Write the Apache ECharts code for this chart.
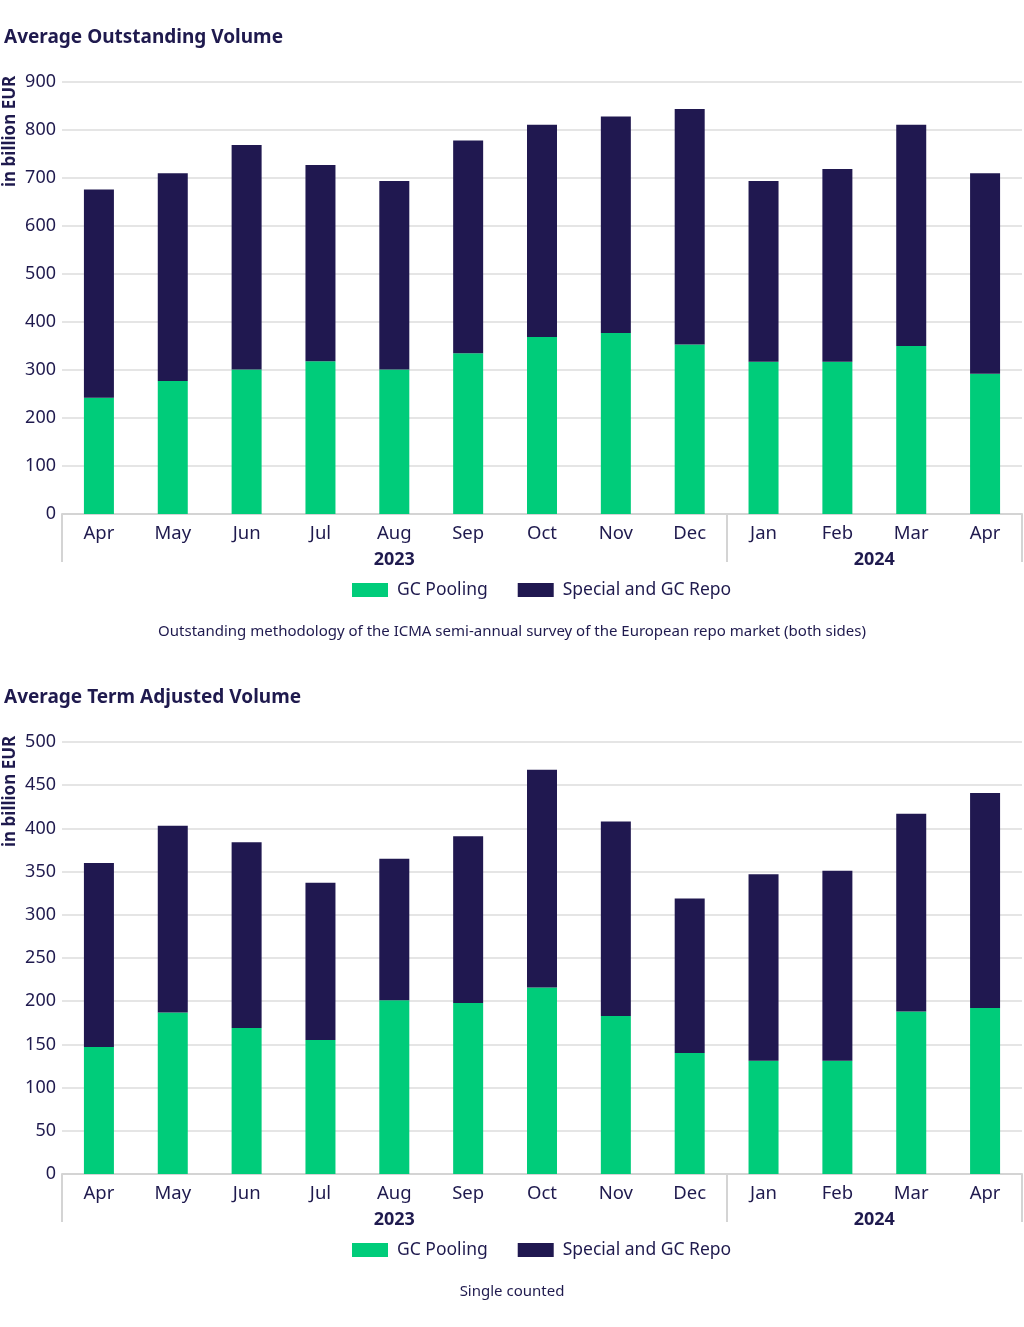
<!DOCTYPE html>
<html>
<head>
<meta charset="utf-8">
<script src="https://cdn.jsdelivr.net/npm/echarts@6/dist/echarts.min.js"></script>
<style>html,body{margin:0;padding:0;background:#fff}#c{width:1024px;height:1327px}</style>
</head>
<body>
<div id="c"></div>
<script>
const months = ['Apr','May','Jun','Jul','Aug','Sep','Oct','Nov','Dec','Jan','Feb','Mar','Apr'];
const yearLabels = ['2023','2024'];
const seriesNames = ['GC Pooling','Special and GC Repo'];

// Average Outstanding Volume (EUR bn)
const outTotal   = [676,710,769,727,694,778,811,828,844,694,719,811,710];
const outGC      = [242,277,301,318,301,335,369,377,353,317,317,350,292];
const outSpecial = outTotal.map((t,i)=>t-outGC[i]);

// Average Term Adjusted Volume (EUR bn)
const termTotal   = [360,403,384,337,365,391,468,408,319,347,351,417,441];
const termGC      = [147,187,169,155,201,198,216,183,140,131,131,188,192];
const termSpecial = termTotal.map((t,i)=>t-termGC[i]);

const outTicks = {min:0,max:900,interval:100};
const termTicks = {min:0,max:500,interval:50};

const TXT = '#1f1a4e';
const GREEN = '#00cc7a';
const NAVY = '#201850';
const FONT = 'Noto Sans';

function catAxis(gi){
  return {type:'category', gridIndex:gi, data:months, position:'bottom',
    axisLine:{show:true,lineStyle:{color:'#d4d4d4',width:2}},
    axisTick:{show:false},
    axisLabel:{color:TXT,fontSize:18.5,fontFamily:FONT,margin:10}};
}
function yearAxis(gi){
  return {type:'value', gridIndex:gi, min:0, max:13, position:'bottom',
    axisLine:{show:false},
    splitLine:{show:false},
    axisTick:{show:true, customValues:[0,9,13], length:48, lineStyle:{color:'#d4d4d4',width:2}},
    axisLabel:{show:true, customValues:[4.5,11], margin:37, color:TXT, fontSize:18, fontWeight:'bold', fontFamily:FONT,
      formatter:function(v){ return v===4.5?yearLabels[0]:(v===11?yearLabels[1]:''); }}};
}
function valAxis(gi,t){
  return {type:'value', gridIndex:gi, min:t.min, max:t.max, interval:t.interval,
    axisLine:{show:false}, axisTick:{show:false},
    axisLabel:{color:TXT,fontSize:18,fontFamily:FONT,margin:6},
    splitLine:{lineStyle:{color:'#dcdcdc',width:1.5}}};
}
function bar(name,data,gi,color){
  return {name:name,type:'bar',stack:'s'+gi,xAxisIndex:gi*2,yAxisIndex:gi,data:data,barWidth:30,
    itemStyle:{color:color},emphasis:{disabled:true}};
}
function legend(top){
  return {top:top,left:347,itemWidth:36,itemHeight:14,itemGap:30,icon:'rect',
    textStyle:{color:TXT,fontSize:17.5,fontFamily:FONT,padding:[0,0,0,4]},data:seriesNames,selectedMode:false};
}

const option = {
  animation:false,
  textStyle:{fontFamily:FONT},
  title:[
    {text:'Average Outstanding Volume',left:-1,top:23,textStyle:{color:TXT,fontSize:19,fontWeight:'bold',fontFamily:FONT}},
    {text:'Outstanding methodology of the ICMA semi-annual survey of the European repo market (both sides)',left:'center',top:619,textStyle:{color:TXT,fontSize:15,fontWeight:'normal',fontFamily:FONT}},
    {text:'Average Term Adjusted Volume',left:-1,top:683,textStyle:{color:TXT,fontSize:19,fontWeight:'bold',fontFamily:FONT}},
    {text:'Single counted',left:'center',top:1279,textStyle:{color:TXT,fontSize:15,fontWeight:'normal',fontFamily:FONT}}
  ],
  legend:[legend(576),legend(1236)],
  grid:[
    {left:62,right:2,top:82,height:432},
    {left:62,right:2,top:742,height:432}
  ],
  xAxis:[catAxis(0),yearAxis(0),catAxis(1),yearAxis(1)],
  yAxis:[valAxis(0,outTicks),valAxis(1,termTicks)],
  graphic:[
    {type:'text',x:10,y:187,rotation:Math.PI/2,style:{text:'in billion EUR',fill:TXT,font:'bold 17px "Noto Sans"',textAlign:'left',textVerticalAlign:'middle'}},
    {type:'text',x:10,y:847,rotation:Math.PI/2,style:{text:'in billion EUR',fill:TXT,font:'bold 17px "Noto Sans"',textAlign:'left',textVerticalAlign:'middle'}}
  ],
  series:[
    bar(seriesNames[0],outGC,0,GREEN),
    bar(seriesNames[1],outSpecial,0,NAVY),
    bar(seriesNames[0],termGC,1,GREEN),
    bar(seriesNames[1],termSpecial,1,NAVY)
  ]
};
const chart = echarts.init(document.getElementById('c'),null,{renderer:'canvas'});
chart.setOption(option);
</script>
</body>
</html>
